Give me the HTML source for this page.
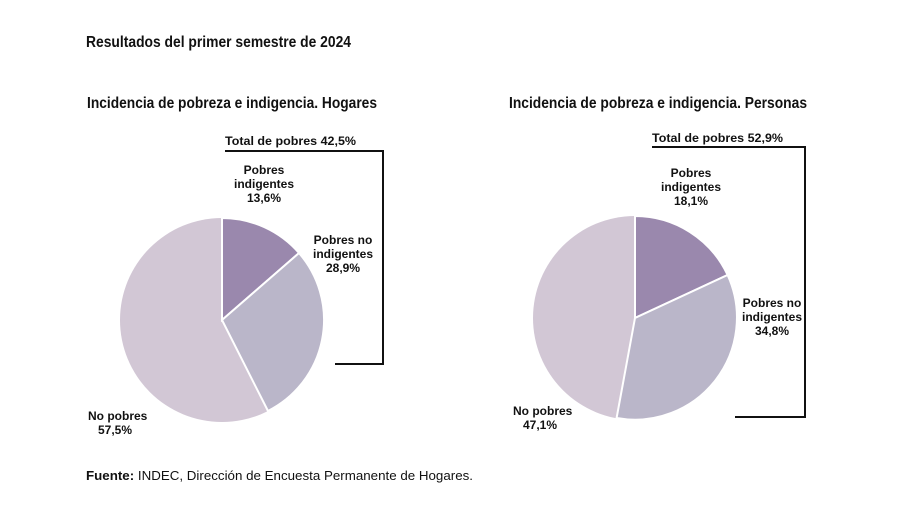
<!DOCTYPE html>
<html><head><style>body{margin:0;background:#fff}svg{display:block}</style></head><body>
<svg width="900" height="505" viewBox="0 0 900 505" font-family="'Liberation Sans', sans-serif" fill="#111">
<text x="86" y="47" font-size="16" font-weight="bold" textLength="265" lengthAdjust="spacingAndGlyphs">Resultados del primer semestre de 2024</text>
<text x="87" y="108" font-size="16" font-weight="bold" textLength="290" lengthAdjust="spacingAndGlyphs">Incidencia de pobreza e indigencia. Hogares</text>
<text x="509" y="108" font-size="16" font-weight="bold" textLength="298" lengthAdjust="spacingAndGlyphs">Incidencia de pobreza e indigencia. Personas</text>

<!-- Left pie -->
<circle cx="222" cy="320" r="102" fill="#d2c7d5"/>
<path d="M222,320 L222,218 A102,102 0 0 1 299,253 Z" fill="#9a88ad" stroke="#fff" stroke-width="2"/>
<path d="M222,320 L299,253 A102,102 0 0 1 268,411 Z" fill="#bab6c9" stroke="#fff" stroke-width="2"/>
<polyline points="225,151 383,151 383,364 335,364" fill="none" stroke="#111" stroke-width="2"/>
<g font-size="12" font-weight="bold">
<text x="225" y="145" textLength="131" lengthAdjust="spacingAndGlyphs">Total de pobres 42,5%</text>
<text x="264" y="174" text-anchor="middle">Pobres</text>
<text x="264" y="188" text-anchor="middle">indigentes</text>
<text x="264" y="202" text-anchor="middle">13,6%</text>
<text x="343" y="244" text-anchor="middle">Pobres no</text>
<text x="343" y="258" text-anchor="middle">indigentes</text>
<text x="343" y="272" text-anchor="middle">28,9%</text>
<text x="88" y="420">No pobres</text>
<text x="98" y="434">57,5%</text>
</g>

<!-- Right pie -->
<circle cx="635" cy="318" r="102" fill="#d2c7d5"/>
<path d="M635,318 L635,216 A102,102 0 0 1 727.6,275 Z" fill="#9a88ad" stroke="#fff" stroke-width="2"/>
<path d="M635,318 L727.6,275 A102,102 0 0 1 616.6,418 Z" fill="#bab6c9" stroke="#fff" stroke-width="2"/>
<polyline points="652,147 805,147 805,417 735,417" fill="none" stroke="#111" stroke-width="2"/>
<g font-size="12" font-weight="bold">
<text x="652" y="142" textLength="131" lengthAdjust="spacingAndGlyphs">Total de pobres 52,9%</text>
<text x="691" y="177" text-anchor="middle">Pobres</text>
<text x="691" y="191" text-anchor="middle">indigentes</text>
<text x="691" y="205" text-anchor="middle">18,1%</text>
<text x="772" y="307" text-anchor="middle">Pobres no</text>
<text x="772" y="321" text-anchor="middle">indigentes</text>
<text x="772" y="335" text-anchor="middle">34,8%</text>
<text x="513" y="415">No pobres</text>
<text x="523" y="429">47,1%</text>
</g>

<text x="86" y="480" font-size="13" textLength="387" lengthAdjust="spacingAndGlyphs"><tspan font-weight="bold">Fuente:</tspan> INDEC, Dirección de Encuesta Permanente de Hogares.</text>
</svg>
</body></html>
